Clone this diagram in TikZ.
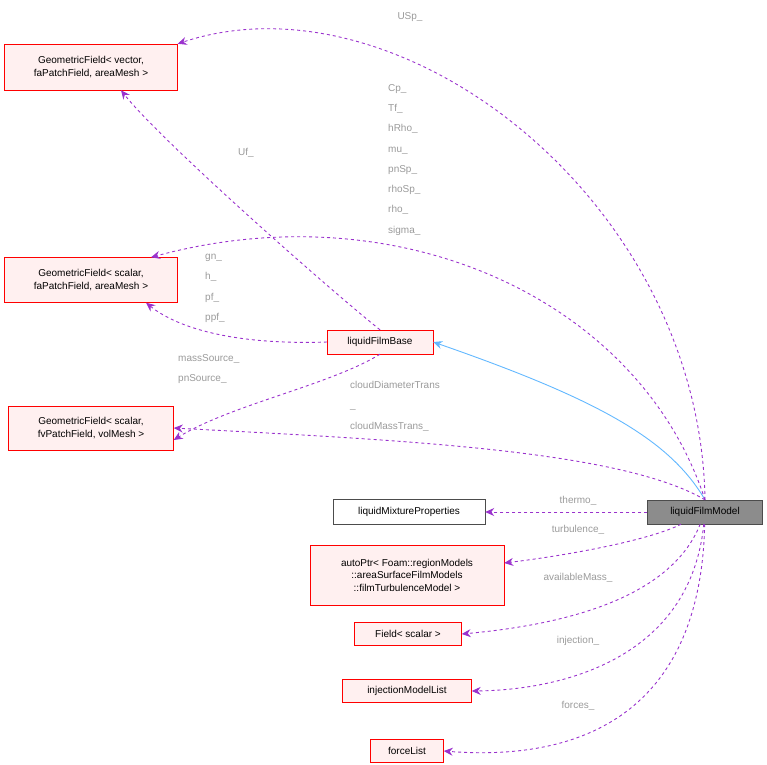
\documentclass[tikz,border=0pt]{standalone}
\usepackage{fontspec}
\setmainfont{Liberation Sans}
\usetikzlibrary{arrows.meta,positioning}
\definecolor{edgepurple}{HTML}{9A32CD}
\definecolor{inhblue}{HTML}{63B8FF}
\definecolor{lbl}{HTML}{9A9A9A}
\tikzset{
  cls/.style={draw=red,fill=red!6,font=\fontsize{10}{12.5}\selectfont,align=center,inner sep=2pt},
  plain/.style={draw=black!70,fill=white,font=\fontsize{10}{12.5}\selectfont,inner sep=2pt},
  uses/.style={draw=edgepurple,dashed,line width=0.9pt,-{Stealth[length=9pt,width=8pt]},edgepurple},
  inh/.style={draw=inhblue,line width=0.9pt,-{Stealth[length=9pt,width=8pt]}},
  lab/.style={text=lbl,font=\fontsize{10}{20.3}\selectfont,align=left,inner sep=0pt}
}
\begin{document}
\begin{tikzpicture}[x=1pt,y=-1pt]
  \useasboundingbox (0,0) rectangle (767,764);
  \node[cls,minimum width=173,minimum height=46](gfv) at (91,67){GeometricField< vector,\\ faPatchField, areaMesh >};
  \node[cls,minimum width=173,minimum height=45](gfs) at (91,280){GeometricField< scalar,\\ faPatchField, areaMesh >};
  \node[cls,minimum width=165,minimum height=44](gfvol) at (91,428){GeometricField< scalar,\\ fvPatchField, volMesh >};
  \node[cls,minimum width=106,minimum height=24](base) at (380,342){liquidFilmBase};
  \node[plain,fill=black!45,minimum width=115,minimum height=24](model) at (705,512){liquidFilmModel};
  \node[plain,minimum width=152,minimum height=25](mix) at (409,512){liquidMixtureProperties};
  \node[cls,minimum width=194,minimum height=60](turb) at (407,575){autoPtr< Foam::regionModels\\ ::areaSurfaceFilmModels\\ ::filmTurbulenceModel >};
  \node[cls,minimum width=107,minimum height=23](field) at (408,634){Field< scalar >};
  \node[cls,minimum width=129,minimum height=23](inj) at (407,691){injectionModelList};
  \node[cls,minimum width=73,minimum height=23](force) at (407,751){forceList};
  % inheritance
  \draw[inh](model.north) .. controls (670,440) and (600,400) .. (base.east);
  % members of liquidFilmModel
  \draw[uses](model.north) .. controls (700,200) and (400,-30) .. (gfv.north east);
  \draw[uses](model.north) .. controls (640,300) and (400,190) .. ([xshift=60]gfs.north);
  \draw[uses](model.north) .. controls (620,450) and (400,440) .. (gfvol.east);
  \draw[uses](model) -- (mix);
  \draw[uses](model) .. controls (650,540) and (570,555) .. ([yshift=12]turb.east);
  \draw[uses](model) .. controls (670,600) and (560,625) .. (field.east);
  \draw[uses](model) .. controls (690,660) and (560,690) .. (inj.east);
  \draw[uses](model) .. controls (700,730) and (560,760) .. (force.east);
  % members of liquidFilmBase
  \draw[uses](base.north) .. controls (330,290) and (160,140) .. ([xshift=30]gfv.south);
  \draw[uses](base.west) .. controls (240,345) and (180,330) .. ([xshift=55]gfs.south);
  \draw[uses](base.south) .. controls (330,385) and (230,405) .. ([yshift=-12]gfvol.east);
  % labels
  \node[lab](lusp) at (410,17){USp\_};
  \node[lab,anchor=north west](lcp) at (388,84){Cp\_\\Tf\_\\hRho\_\\mu\_\\pnSp\_\\rhoSp\_\\rho\_\\sigma\_};
  \node[lab](luf) at (246,153){Uf\_};
  \node[lab,anchor=north west](lgn) at (205,254){gn\_\\h\_\\pf\_\\ppf\_};
  \node[lab,anchor=north west](lmass) at (178,354){massSource\_\\pnSource\_};
  \node[lab,anchor=north west](lcloud) at (350,381){cloudDiameterTrans\\\_\\cloudMassTrans\_};
  \node[lab](lthermo) at (578,501){thermo\_};
  \node[lab](lturb) at (578,530){turbulence\_};
  \node[lab](lavail) at (578,578){availableMass\_};
  \node[lab](linj) at (578,641){injection\_};
  \node[lab](lforce) at (578,706){forces\_};
\end{tikzpicture}
\end{document}
